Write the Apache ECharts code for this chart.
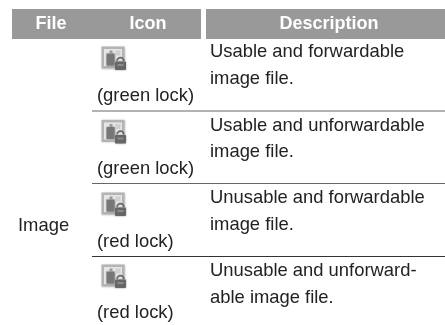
<!DOCTYPE html>
<html>
<head>
<meta charset="utf-8">
<style>
html, body { margin: 0; padding: 0; background: #fff; }
#main { width: 445px; height: 325px; }
</style>
<script src="https://cdn.jsdelivr.net/npm/echarts@6/dist/echarts.min.js"></script>
</head>
<body>
<div id="main"></div>
<script>
// table content
const headers = ['File', 'Icon', 'Description'];
const fileType = 'Image';
const iconNotes = ['(green lock)', '(green lock)', '(red lock)', '(red lock)'];
const descLine1 = ['Usable and forwardable', 'Usable and unforwardable', 'Unusable and forwardable', 'Unusable and unforward-'];
const descLine2 = ['image file.', 'image file.', 'image file.', 'able image file.'];

// layout
const font = '"Liberation Sans", Arial, sans-serif';
const bodySize = 18.4;
const headSize = 18;
const headerX = [51, 148, 329];
const rowLines = [111, 183.5, 256.5];
const iconTop = [46.5, 120, 192.5, 264.5];
const noteY = [96, 169, 242, 313];
const line1Y = [52, 126, 198, 271];
const line2Y = [79, 152, 225, 298];
const textColor = '#222222';

function label(text, x, y, color, bold, align) {
    return {
        type: 'text',
        x: x,
        y: y,
        style: {
            text: text,
            fill: color,
            font: (bold ? 'bold ' + headSize : bodySize) + 'px ' + font,
            textAlign: align,
            textVerticalAlign: 'middle'
        }
    };
}

// small picture-with-padlock icon, gray and soft like the scan
function icon(x, y) {
    return {
        type: 'group',
        x: x,
        y: y,
        children: [
            { type: 'rect', shape: { x: 0, y: 0, width: 23, height: 22 }, style: { fill: '#b4b4b4', shadowBlur: 2, shadowColor: '#bbbbbb' } },
            { type: 'rect', shape: { x: 2.5, y: 2.5, width: 18, height: 17 }, style: { fill: '#e6e6e6' } },
            { type: 'rect', shape: { x: 5, y: 7, width: 8, height: 12 }, style: { fill: '#777777', shadowBlur: 2, shadowColor: '#888888' } },
            { type: 'rect', shape: { x: 8, y: 4, width: 3, height: 3 }, style: { fill: '#999999' } },
            { type: 'rect', shape: { x: 14, y: 4, width: 5, height: 5 }, style: { fill: '#cfcfcf' } },
            { type: 'arc', shape: { cx: 19, cy: 14.5, r: 3.4, startAngle: Math.PI, endAngle: 0 }, style: { fill: 'none', stroke: '#666666', lineWidth: 1.6 } },
            { type: 'rect', shape: { x: 13.5, y: 15, width: 11, height: 8.5, r: 1 }, style: { fill: '#666666', shadowBlur: 2, shadowColor: '#999999' } },
            { type: 'rect', shape: { x: 16, y: 17.5, width: 6, height: 2 }, style: { fill: '#8c8c8c' } }
        ]
    };
}

const elements = [
    { type: 'rect', shape: { x: 12, y: 9, width: 189, height: 30 }, style: { fill: '#999999' } },
    { type: 'rect', shape: { x: 206, y: 9, width: 239, height: 30 }, style: { fill: '#999999' } }
];

headers.forEach((h, i) => {
    elements.push(label(h, headerX[i], 24, '#ffffff', true, 'center'));
});

elements.push(label(fileType, 18, 226, textColor, false, 'left'));

rowLines.forEach((y, i) => {
    elements.push({
        type: 'line',
        shape: { x1: 92, y1: y, x2: 445, y2: y },
        style: { stroke: i === 2 ? '#333333' : '#666666', lineWidth: 1 }
    });
});

iconNotes.forEach((note, i) => {
    elements.push(icon(101.5, iconTop[i]));
    elements.push(label(note, 97, noteY[i], textColor, false, 'left'));
    elements.push(label(descLine1[i], 210, line1Y[i], textColor, false, 'left'));
    elements.push(label(descLine2[i], 210, line2Y[i], textColor, false, 'left'));
});

const chart = echarts.init(document.getElementById('main'));
chart.setOption({
    backgroundColor: '#ffffff',
    animation: false,
    graphic: { elements: elements }
});
</script>
</body>
</html>
